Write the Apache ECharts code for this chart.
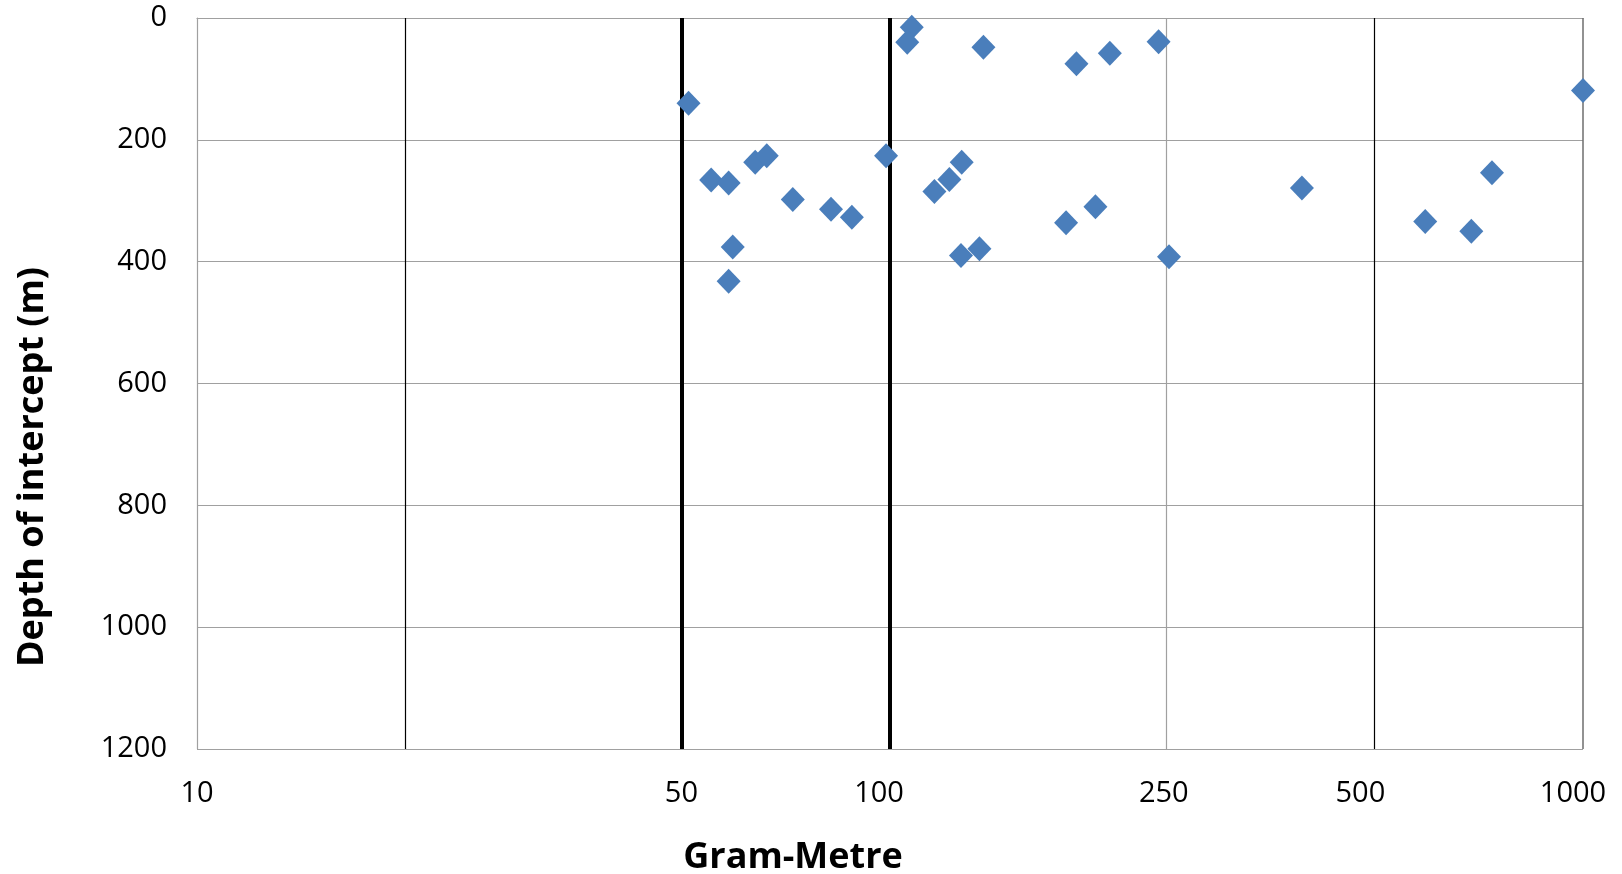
<!DOCTYPE html>
<html>
<head>
<meta charset="utf-8">
<script src="https://cdn.jsdelivr.net/npm/echarts@6/dist/echarts.min.js"></script>
<style>
html,body{margin:0;padding:0;background:#fff;}
#chart{width:1622px;height:874px;}
</style>
</head>
<body>
<div id="chart"></div>
<script>
// Data
const gramMetre = [51.2, 55.2, 58.5, 63.9, 66.4, 72.4, 82.2, 88.1, 59.3, 58.5,
                   98.7, 107.5, 105.9, 136.4, 126.9, 121.8, 115.9, 126.6, 134.6, 185.8,
                   207.6, 244.1, 1000, 393, 739, 592, 690, 179.5, 197.9, 252.7];
const depth = [140, 266, 271, 237, 226, 298, 314, 327, 376, 432,
               226, 15, 40, 48, 237, 265, 285, 390, 379, 75,
               58, 39, 119, 279, 254, 334, 350, 336, 310, 392];
const xTickLabels = [10, 50, 100, 250, 500, 1000];
const xThinBlackLines = [20, 500];
const xThickLines = [50, 100];
const xGreyLines = [250];
const xBorderLines = [1000];
const xTitle = 'Gram-Metre';
const yTitle = 'Depth of intercept (m)';

const points = gramMetre.map((g, i) => [g, depth[i]]);

const FONT = '"Open Sans", "Liberation Sans", sans-serif';
const LABEL_SIZE = 29;
const labelShift = {10: 0, 50: 0, 100: 22, 250: 4, 500: 28, 1000: 20};
const labelLift = {10: 0, 50: 0, 100: 0, 250: 0, 500: 0, 1000: 8};
const rich = {};
xTickLabels.forEach(v => {
  rich['s' + v] = {padding: [0, labelShift[v], labelLift[v], 0], fontSize: LABEL_SIZE, fontFamily: FONT, color: '#000'};
});

const markData = [];
xThinBlackLines.forEach(v => markData.push({xAxis: v, lineStyle: {color: '#000', width: 1.2, type: 'solid'}}));
xThickLines.forEach(v => markData.push({xAxis: v, lineStyle: {color: '#000', width: 4, type: 'solid'}}));
xGreyLines.forEach(v => markData.push({xAxis: v, lineStyle: {color: '#a0a0a0', width: 1.2, type: 'solid'}}));
xBorderLines.forEach(v => markData.push({xAxis: v, lineStyle: {color: '#6e6e6e', width: 1.5, type: 'solid'}}));

const chart = echarts.init(document.getElementById('chart'), null, {renderer: 'canvas'});
chart.setOption({
  animation: false,
  backgroundColor: '#fff',
  grid: {left: 197, right: 39, top: 18, bottom: 125},
  xAxis: {
    type: 'log',
    logBase: 10,
    min: 10,
    max: 1000,
    axisLine: {show: true, lineStyle: {color: '#a0a0a0', width: 1.2}},
    axisTick: {show: false},
    splitLine: {show: false},
    minorSplitLine: {show: false},
    axisLabel: {
      customValues: xTickLabels,
      margin: 30,
      fontSize: LABEL_SIZE,
      fontFamily: FONT,
      color: '#000',
      formatter: v => '{s' + v + '|' + v + '}',
      rich: rich
    }
  },
  yAxis: {
    type: 'value',
    inverse: true,
    min: 0,
    max: 1200,
    interval: 200,
    axisLine: {show: true, lineStyle: {color: '#a0a0a0', width: 1.2}},
    axisTick: {show: false},
    splitLine: {show: true, lineStyle: {color: '#a0a0a0', width: 1.2}},
    axisLabel: {margin: 30, fontSize: LABEL_SIZE, fontFamily: FONT, color: '#000', formatter: v => String(v)}
  },
  series: [
    {
      type: 'scatter',
      data: [],
      z: 1,
      silent: true,
      markLine: {
        silent: true,
        symbol: ['none', 'none'],
        label: {show: false},
        data: markData
      }
    },
    {
      type: 'scatter',
      z: 5,
      symbol: 'diamond',
      symbolSize: [24, 25],
      itemStyle: {color: '#4a7ebb', opacity: 1},
      data: points
    }
  ],
  graphic: [
    {
      type: 'text',
      x: 793,
      y: 858,
      style: {text: xTitle, font: 'bold 36px ' + FONT, fill: '#000', align: 'center', verticalAlign: 'middle'}
    },
    {
      type: 'text',
      x: 33,
      y: 467,
      rotation: Math.PI / 2,
      style: {text: yTitle, font: 'bold 36px ' + FONT, fill: '#000', align: 'center', verticalAlign: 'middle'}
    }
  ]
});
</script>
</body>
</html>
